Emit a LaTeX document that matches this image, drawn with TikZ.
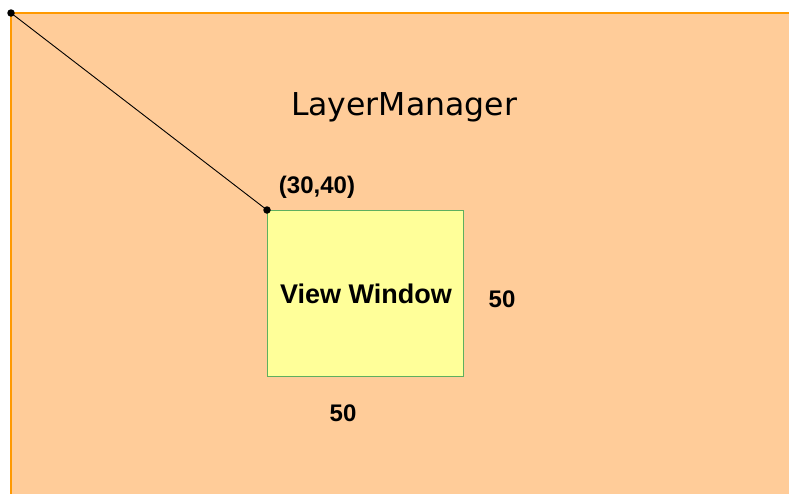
\documentclass[tikz,border=0pt]{standalone}
\usepackage{fontspec}
\setmainfont{Liberation Sans}
\newfontfamily\dvs{DejaVu Sans}
\definecolor{bgfill}{HTML}{FFCC99}
\definecolor{bgline}{HTML}{FF9900}
\definecolor{winfill}{HTML}{FFFF99}
\definecolor{winline}{HTML}{5FAF5F}
\begin{document}
\begin{tikzpicture}[x=1pt,y=-1pt,
  dotnode/.style={circle,fill=black,inner sep=0pt,minimum size=7.5pt},
  lbl/.style={anchor=base,inner sep=0pt,font=\bfseries\fontsize{24}{28}\selectfont}]
\useasboundingbox (0,0) rectangle (789,493);
\begin{scope}
\clip (0,0) rectangle (789,493);
\filldraw[fill=bgfill,draw=bgline,line width=1.3pt] (11,13) rectangle (800,510);
\end{scope}
\node[draw=winline,fill=winfill,line width=1pt,minimum width=196pt,minimum height=166pt,inner sep=0pt,anchor=north west] (win) at (267,210) {};
\node[anchor=base,inner sep=0pt,font=\bfseries\fontsize{27}{32}\selectfont] (wtxt) at (366,303) {View Window};
\node[anchor=base,inner sep=0pt,font=\dvs\fontsize{31.5}{36}\selectfont] (lm) at (404,115) {LayerManager};
\node[lbl] (coord) at (317,193) {(30,40)};
\node[lbl] (h) at (502,307) {50};
\node[lbl] (w) at (343,421) {50};
\node[dotnode] (p0) at (11,13) {};
\node[dotnode] (p1) at (win.north west) {};
\draw[line width=0.9pt] (p0.center) -- (p1.center);
\end{tikzpicture}
\end{document}
